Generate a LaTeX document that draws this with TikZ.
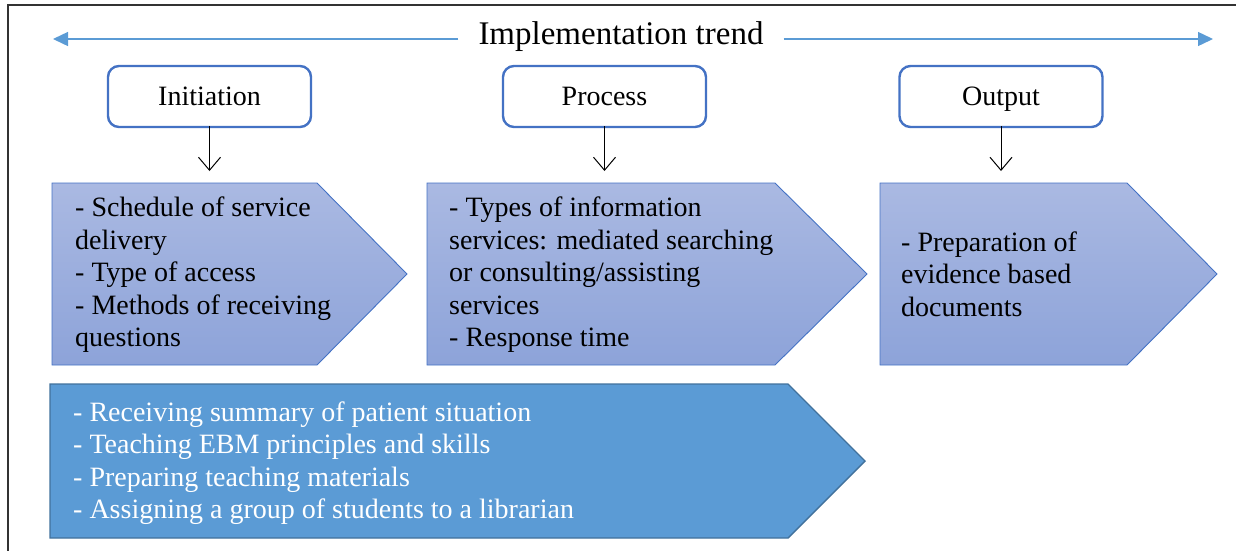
\documentclass[tikz,border=0pt]{standalone}
\usepackage{fontspec}
\setmainfont{Liberation Serif}
\usetikzlibrary{arrows.meta}
\definecolor{boxblue}{HTML}{4472C4}
\definecolor{linkblue}{HTML}{5B9BD5}
\definecolor{darkblue}{HTML}{41719C}
\definecolor{gradtop}{RGB}{170,185,226}
\definecolor{gradbot}{RGB}{141,163,217}
\tikzset{
  x=1pt, y=-1pt,
  stagebox/.style={draw=boxblue, line width=2.4pt, rounded corners=11pt, fill=white,
    minimum width=203pt, minimum height=61pt, inner sep=0pt,
    text height=22pt, text depth=4pt,
    font=\fontsize{28}{32.5}\selectfont},
  pent/.style={draw=boxblue, line width=0.9pt, top color=gradtop, bottom color=gradbot},
  bigpent/.style={draw=darkblue, line width=1.4pt, fill=linkblue},
  bodytext/.style={anchor=west, align=left, inner sep=0pt,
    font=\fontsize{28}{32.5}\selectfont},
  downarrow/.style={-{Straight Barb[length=13pt,width=22pt]}, line width=1pt, black},
  trend/.style={-{Triangle[length=15pt,width=14pt]}, line width=1.4pt, linkblue}
}
\begin{document}
\begin{tikzpicture}
\useasboundingbox (0,0) rectangle (1236,550);
% frame
\draw[line width=2pt, black!80] (8,552) -- (8,5) -- (1238,5);
% title and trend arrows
\node[inner xsep=20pt, inner ysep=0pt, font=\fontsize{33}{36}\selectfont] (title) at (621,37) {Implementation trend};
\coordinate (lt) at (53,39);
\coordinate (rt) at (1213,39);
\draw[trend] (title.west |- lt) -- (lt);
\draw[trend] (title.east |- rt) -- (rt);
% stage boxes
\node[stagebox] (init) at (209.5,96.5) {Initiation};
\node[stagebox] (proc) at (604.5,96.5) {Process};
\node[stagebox] (outp) at (1001,96.5) {Output};
% pentagons
\draw[pent] (52,183) -- (317,183) -- (407,274) -- (317,365) -- (52,365) -- cycle;
\draw[pent] (427,183) -- (775,183) -- (867,274) -- (775,365) -- (427,365) -- cycle;
\draw[pent] (880,183) -- (1127,183) -- (1217,274) -- (1127,365) -- (880,365) -- cycle;
\draw[bigpent] (50,384) -- (788,384) -- (865,461) -- (788,538) -- (50,538) -- cycle;
\coordinate (p1) at (init.south |- 0,171);
\coordinate (p2) at (proc.south |- 0,171);
\coordinate (p3) at (outp.south |- 0,171);
\draw[downarrow] ([yshift=2pt]init.south) -- (p1);
\draw[downarrow] ([yshift=2pt]proc.south) -- (p2);
\draw[downarrow] ([yshift=2pt]outp.south) -- (p3);
% texts
\node[bodytext] (t1) at (75,275) {- Schedule of service\\delivery\\- Type of access\\- Methods of receiving\\questions};
\node[bodytext] (t2) at (449,275) {- Types of information\\services: mediated searching\\or consulting/assisting\\services\\- Response time};
\node[bodytext] (t3) at (901,274) {- Preparation of\\evidence based\\documents};
\node[bodytext, text=white] (t4) at (73,463) {- Receiving summary of patient situation\\- Teaching EBM principles and skills\\- Preparing teaching materials\\- Assigning a group of students to a librarian};
\end{tikzpicture}
\end{document}
